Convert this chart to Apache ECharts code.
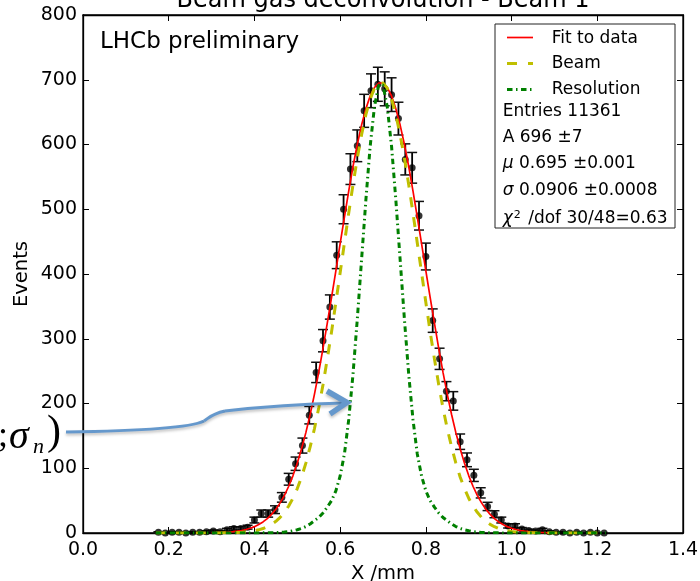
<!DOCTYPE html>
<html><head><meta charset="utf-8">
<script src="https://cdn.jsdelivr.net/npm/echarts@6/dist/echarts.min.js"></script>
<style>html,body{margin:0;padding:0;background:#fff}#c{width:700px;height:581px}</style>
</head><body><div id="c"></div>
<script>
// ---- data ----
const titleText = 'Beam gas deconvolution - Beam 1';
const xName = 'X /mm';
const yName = 'Events';
const legendNames = ['Fit to data', 'Beam', 'Resolution'];

// histogram bin centres (mm)
const binX = [0.176,0.192,0.208,0.224,0.240,0.256,0.272,0.288,0.304,0.320,
  0.336,0.352,0.368,0.384,0.400,0.416,0.432,0.448,0.464,0.480,
  0.496,0.512,0.528,0.544,0.560,0.576,0.592,0.608,0.624,0.640,
  0.656,0.672,0.688,0.704,0.720,0.736,0.752,0.768,0.784,0.800,
  0.816,0.832,0.848,0.864,0.880,0.896,0.912,0.928,0.944,0.960,
  0.976,0.992,1.008,1.024,1.040,1.056,1.072,1.088,1.104,1.120,
  1.136,1.152,1.168,1.184,1.200,1.216];
// events per bin
const counts = [1,0,1,1,0,1,1,2,3,2,
  5,7,7,9,20,30,30,36,55,83,
  107,135,182,248,297,349,429,500,562,598,
  652,683,693,686,677,640,577,564,490,427,
  328,269,219,204,141,113,89,62,41,29,
  20,11,11,6,4,3,5,2,1,1,
  0,1,0,1,0,0];
// error bar half-lengths
const errs = [1,0,1,1,0,1,1,1.4,1.7,1.4,
  2.2,2.6,2.6,3,4.5,5.5,5.5,6,7.4,9.1,
  10.3,11.6,13.5,15.7,17.2,18.7,20.7,22.4,23.7,24.5,
  25.5,26.1,26.3,26.2,26,25.3,24,23.7,22.1,20.7,
  18.1,16.4,14.8,14.3,11.9,10.6,9.4,7.9,6.4,5.4,
  4.5,3.3,3.3,2.4,2,1.7,2.2,1.4,1,1,
  0,1,0,1,0,0];

// curve sample positions (mm)
const curveX = [0.30,0.31,0.32,0.33,0.34,0.35,0.36,0.37,0.38,0.39,0.40,0.41,0.42,0.43,0.44,0.45,0.46,0.47,0.48,0.49,
  0.50,0.51,0.52,0.53,0.54,0.55,0.56,0.57,0.58,0.59,0.60,0.61,0.62,0.63,0.64,0.65,0.66,0.67,0.68,0.69,
  0.70,0.71,0.72,0.73,0.74,0.75,0.76,0.77,0.78,0.79,0.80,0.81,0.82,0.83,0.84,0.85,0.86,0.87,0.88,0.89,
  0.90,0.91,0.92,0.93,0.94,0.95,0.96,0.97,0.98,0.99,1.00,1.01,1.02,1.03,1.04,1.05,1.06,1.07,1.08,1.09,1.10];
const tailLeftX = [0.17,0.20,0.25];
const tailRightX = [1.15,1.20,1.22];
const tailZeros = [0,0,0];

const fitY = [0.3,0.5,0.7,1.0,1.4,2.0,2.8,3.9,5.4,7.3,9.8,13.0,17.1,22.3,28.7,36.7,46.5,58.2,72.2,88.7,
  108,130,155,183,214,248,285,324,364,405,447,488,528,566,600,630,655,675,688,695,
  695,688,675,655,630,600,566,528,488,447,405,364,324,285,248,214,183,155,130,108,
  88.7,72.2,58.2,46.5,36.7,28.7,22.3,17.1,13.0,9.8,7.3,5.4,3.9,2.8,2.0,1.4,1.0,0.7,0.5,0.3,0.2];
const beamY = [0,0.1,0.1,0.2,0.3,0.5,0.7,1.1,1.7,2.4,3.5,4.9,6.9,9.7,13.3,18.0,24.1,31.9,41.7,53.8,
  68.7,86.5,108,133,161,193,229,269,311,356,402,448,494,538,579,615,646,670,687,695,
  695,687,670,646,615,579,538,494,448,402,356,311,269,229,193,161,133,108,86.5,68.7,
  53.8,41.7,31.9,24.1,18.0,13.3,9.7,6.9,4.9,3.5,2.4,1.7,1.1,0.7,0.5,0.3,0.2,0.1,0.1,0,0];
const resY = [0,0,0,0,0,0,0,0,0,0,0,0.1,0.2,0.3,0.4,0.6,0.9,1.4,2.2,3.5,
  5,7,10,14,19,24,31,40,50,65,88,122,175,245,330,422,514,597,658,692,
  692,658,597,514,422,330,245,175,122,88,65,50,40,31,24,19,14,10,7,5,
  3.5,2.2,1.4,0.9,0.6,0.4,0.3,0.2,0.1,0,0,0,0,0,0,0,0,0,0,0,0];

const statLines = [
  'Entries 11361',
  'A 696 ±7',
  '{it|μ} 0.695 ±0.001',
  '{it|σ} 0.0906 ±0.0008',
  '{it|χ}{sup|2} /dof 30/48=0.63'
];

// ---- build ----
const FONT = 'DejaVu Sans';
const pairs = (xs, ys) => xs.map((x, i) => [x, ys[i]]);
const fitData = pairs(curveX, fitY);
const beamData = pairs(tailLeftX.concat(curveX, tailRightX), tailZeros.concat(beamY, tailZeros));
const resData = pairs(tailLeftX.concat(curveX, tailRightX), tailZeros.concat(resY, tailZeros));
const pointData = binX.map((x, i) => [x, counts[i]]);
const errData = binX.map((x, i) => [x, counts[i], errs[i]]);

const chart = echarts.init(document.getElementById('c'), null, {renderer: 'canvas'});

const axisCommon = {
  type: 'value',
  axisLine: {show: true, onZero: false, lineStyle: {color: '#000', width: 1.3}},
  axisTick: {show: true, inside: true, length: 6, lineStyle: {color: '#000', width: 1}},
  splitLine: {show: false}
};

const lc = {fontFamily: FONT, fontSize: 17, fill: '#000'};
const statYs = [111.6, 137.6, 163.2, 190.9, 219];
const statGraphics = statLines.map((t, i) => ({
  type: 'text', x: 502.7, y: statYs[i], z: 11,
  style: {text: t, fontFamily: FONT, fontSize: 17, fill: '#000', verticalAlign: 'middle',
    rich: {it: {fontFamily: FONT, fontSize: 17, fontStyle: 'italic', fill: '#000'},
           sup: {fontFamily: FONT, fontSize: 11, fill: '#000', verticalAlign: 'top', padding: [0, 2, 8, 1]}}}
}));

const arrowStyle = {fill: 'none', stroke: '#6598cc', lineWidth: 3, shadowBlur: 3, shadowColor: 'rgba(0,0,0,0.25)', shadowOffsetY: 2};

const option = {
  animation: false,
  backgroundColor: '#fff',
  grid: {left: 83, right: 17, top: 15, bottom: 48, show: true, borderColor: '#000', borderWidth: 1.3,
    backgroundColor: 'transparent', containLabel: false, outerBoundsMode: 'none'},
  xAxis: [
    Object.assign({}, axisCommon, {
      min: 0, max: 1.4, interval: 0.2, position: 'bottom',
      axisLabel: {formatter: v => v.toFixed(1), fontFamily: FONT, fontSize: 19, color: '#000', margin: 8, showMinLabel: true, showMaxLabel: true},
      name: xName, nameLocation: 'middle', nameGap: 31, nameMoveOverlap: false,
      nameTextStyle: {fontFamily: FONT, fontSize: 19.5, color: '#000'}
    }),
    Object.assign({}, axisCommon, {min: 0, max: 1.4, interval: 0.2, position: 'top', axisLabel: {show: false}})
  ],
  yAxis: [
    Object.assign({}, axisCommon, {
      min: 0, max: 800, interval: 100, position: 'left',
      axisLabel: {fontFamily: FONT, fontSize: 19, color: '#000', margin: 6, showMinLabel: true, showMaxLabel: true},
      name: yName, nameLocation: 'middle', nameGap: 51, nameRotate: 90, nameMoveOverlap: false,
      nameTextStyle: {fontFamily: FONT, fontSize: 19.5, color: '#000'}
    }),
    Object.assign({}, axisCommon, {min: 0, max: 800, interval: 100, position: 'right', axisLabel: {show: false}})
  ],
  series: [
    {
      type: 'custom', name: 'errors', xAxisIndex: 0, yAxisIndex: 0, data: errData,
      encode: {x: 0, y: 1}, z: 2,
      renderItem: function (params, api) {
        const x = api.value(0), y = api.value(1), e = api.value(2);
        if (!(e > 0)) return {type: 'group', children: []};
        const p1 = api.coord([x, y + e]), p2 = api.coord([x, y - e]);
        const w = 5;
        const st = {stroke: '#111', lineWidth: 1.5};
        return {type: 'group', children: [
          {type: 'line', shape: {x1: p1[0], y1: p1[1], x2: p2[0], y2: p2[1]}, style: {stroke: '#000', lineWidth: 1.8}},
          {type: 'line', shape: {x1: p1[0] - w, y1: p1[1], x2: p1[0] + w, y2: p1[1]}, style: st},
          {type: 'line', shape: {x1: p2[0] - w, y1: p2[1], x2: p2[0] + w, y2: p2[1]}, style: st}
        ]};
      }
    },
    {
      type: 'scatter', name: 'data', data: pointData, symbol: 'circle', symbolSize: 7,
      itemStyle: {color: '#000'}, z: 3
    },
    {
      type: 'line', name: legendNames[0], data: fitData, symbol: 'none', showSymbol: false,
      lineStyle: {color: '#ff0000', width: 1.7}, z: 4
    },
    {
      type: 'line', name: legendNames[1], data: beamData, symbol: 'none', showSymbol: false,
      lineStyle: {color: '#bfbf00', width: 3, type: [10, 10]}, z: 5
    },
    {
      type: 'line', name: legendNames[2], data: resData, symbol: 'none', showSymbol: false,
      lineStyle: {color: '#008000', width: 3, type: [5.5, 3.5, 1.5, 3.5]}, z: 6
    }
  ],
  graphic: [
    {type: 'text', x: 383, y: 1, style: {text: titleText, fontFamily: FONT, fontSize: 24, fill: '#000', align: 'center', verticalAlign: 'middle'}},
    {type: 'text', x: 100, y: 42, style: {text: 'LHCb preliminary', fontFamily: FONT, fontSize: 23, fill: '#000', verticalAlign: 'middle'}},
    {type: 'rect', shape: {x: 495, y: 24, width: 180, height: 204}, style: {fill: '#fff', stroke: '#222', lineWidth: 1}, z: 10},
    {type: 'line', shape: {x1: 507, y1: 37.5, x2: 533, y2: 37.5}, style: {stroke: '#ff0000', lineWidth: 1.7}, z: 11},
    {type: 'line', shape: {x1: 507, y1: 63.5, x2: 533, y2: 63.5}, style: {stroke: '#bfbf00', lineWidth: 3, lineDash: [10, 11]}, z: 11},
    {type: 'line', shape: {x1: 507, y1: 89.5, x2: 533, y2: 89.5}, style: {stroke: '#008000', lineWidth: 3, lineDash: [5.5, 3.5, 1.5, 3.5]}, z: 11},
    {type: 'text', x: 551.7, y: 39, z: 11, style: Object.assign({text: legendNames[0], verticalAlign: 'middle'}, lc)},
    {type: 'text', x: 551.7, y: 64, z: 11, style: Object.assign({text: legendNames[1], verticalAlign: 'middle'}, lc)},
    {type: 'text', x: 551.7, y: 90, z: 11, style: Object.assign({text: legendNames[2], verticalAlign: 'middle'}, lc)}
  ].concat(statGraphics).concat([
    {type: 'text', x: -2, y: 437, style: {text: ';', fontFamily: 'Liberation Serif', fontSize: 36, fill: '#000', verticalAlign: 'middle'}},
    {type: 'text', x: 9, y: 437, style: {text: 'σ', fontFamily: 'Liberation Serif', fontStyle: 'italic', fontSize: 40, fill: '#000', verticalAlign: 'middle'}},
    {type: 'text', x: 33, y: 447, style: {text: 'n', fontFamily: 'Liberation Serif', fontStyle: 'italic', fontSize: 22, fill: '#000', verticalAlign: 'middle'}},
    {type: 'text', x: 47, y: 433, style: {text: ')', fontFamily: 'Liberation Serif', fontSize: 42, fill: '#000', verticalAlign: 'middle'}},
    {type: 'bezierCurve', z: 12, shape: {x1: 66, y1: 432, cpx1: 140, cpy1: 431, cpx2: 190, cpy2: 428, x2: 204, y2: 421}, style: arrowStyle},
    {type: 'bezierCurve', z: 12, shape: {x1: 204, y1: 421, cpx1: 209, cpy1: 418, cpx2: 211, cpy2: 414, x2: 225, y2: 411}, style: arrowStyle},
    {type: 'bezierCurve', z: 12, shape: {x1: 225, y1: 411, cpx1: 260, cpy1: 407, cpx2: 300, cpy2: 404, x2: 344, y2: 403}, style: arrowStyle},
    {type: 'polyline', z: 12, shape: {points: [[327, 391], [347, 402.5], [330, 414]]},
      style: Object.assign({}, arrowStyle, {lineWidth: 5.5, lineJoin: 'miter'})}
  ])
};
chart.setOption(option);
</script>
</body></html>
